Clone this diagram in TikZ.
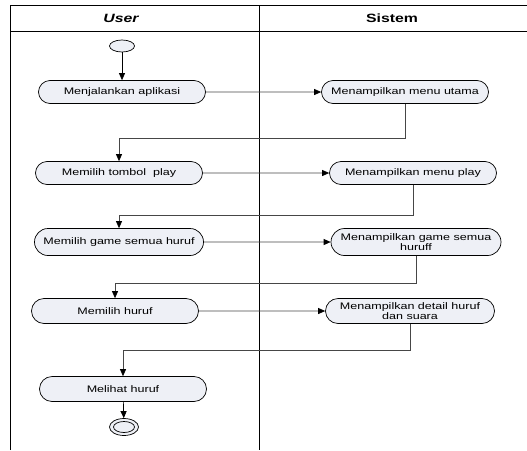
\documentclass[tikz,border=0pt]{standalone}
\usepackage{fontspec}
\setmainfont{Liberation Sans}
\newfontfamily\nodefont[FakeStretch=1.32]{Liberation Sans}
\usetikzlibrary{shapes.misc,shapes.geometric,arrows.meta}
\definecolor{nodefill}{RGB}{238,240,246}
\definecolor{conn}{RGB}{70,70,70}
\tikzset{
  act/.style={rounded rectangle, draw=black, line width=0.7pt, fill=nodefill,
    minimum width=171pt, minimum height=23pt, inner sep=2pt,
    font=\nodefont\fontsize{9.5}{10.5}\selectfont, align=center},
  flow/.style={draw=conn, line width=0.7pt, -{Triangle[length=7pt,width=6pt,color=black]}},
  lane/.style={draw=black, line width=0.8pt},
  hdr/.style={font=\nodefont\fontsize{12}{14}\selectfont\bfseries}
}
\begin{document}
\begin{tikzpicture}[x=1pt,y=-1pt]
\useasboundingbox (0,0) rectangle (527,450);
% swimlane frame
\draw[lane] (10,450) -- (10,5) -- (527,5);
\draw[lane] (10,31) -- (527,31);
\draw[lane] (259,5) -- (259,450);
\node[hdr] (huser) at (121,18) {\itshape User};
\node[hdr] (hsis) at (392,18) {Sistem};
% nodes
\node[ellipse, draw=black, line width=0.7pt, fill=nodefill, minimum width=25pt, minimum height=12pt, inner sep=0pt] (start) at (122,46) {};
\node[act] (n1) at (122,92) {Menjalankan aplikasi};
\node[act] (n2) at (405,92) {Menampilkan menu utama};
\node[act] (n3) at (119,173) {Memilih tombol\ \ play};
\node[act] (n4) at (413,173) {Menampilkan menu play};
\node[act, minimum height=27pt, inner sep=1pt] (n5) at (119,242) {Memilih game semua huruf};
\node[act, minimum height=27pt, minimum width=172pt, inner sep=1pt] (n6) at (416,242) {Menampilkan game semua\\huruff};
\node[act, minimum height=25pt] (n7) at (115,311) {Memilih huruf};
\node[act, minimum height=25pt, inner sep=1pt] (n8) at (410,311) {Menampilkan detail huruf\\dan suara};
\node[act, minimum height=25pt] (n9) at (123,389) {Melihat huruf};
\node[ellipse, draw=black, line width=0.7pt, fill=nodefill, minimum width=29pt, minimum height=17pt, inner sep=0pt] (end) at (124,427) {};
\draw[black, line width=0.7pt] (end.center) ellipse [x radius=10.5pt, y radius=5.5pt];
% connectors
\draw[flow, draw=black] (start) -- (n1);
\draw[flow] (n1) -- (n2);
\draw[flow] (n2.south) -- ++(0,34) -| (n3.north);
\draw[flow] (n3) -- (n4);
\draw[flow] (n4.south) -- ++(0,30) -| (n5.north);
\draw[flow] (n5) -- (n6);
\draw[flow] (n6.south) -- ++(0,27) -| (n7.north);
\draw[flow] (n7) -- (n8);
\draw[flow] (n8.south) -- ++(0,26) -| (n9.north);
\draw[flow, draw=black] (n9) -- (end);
\end{tikzpicture}
\end{document}
